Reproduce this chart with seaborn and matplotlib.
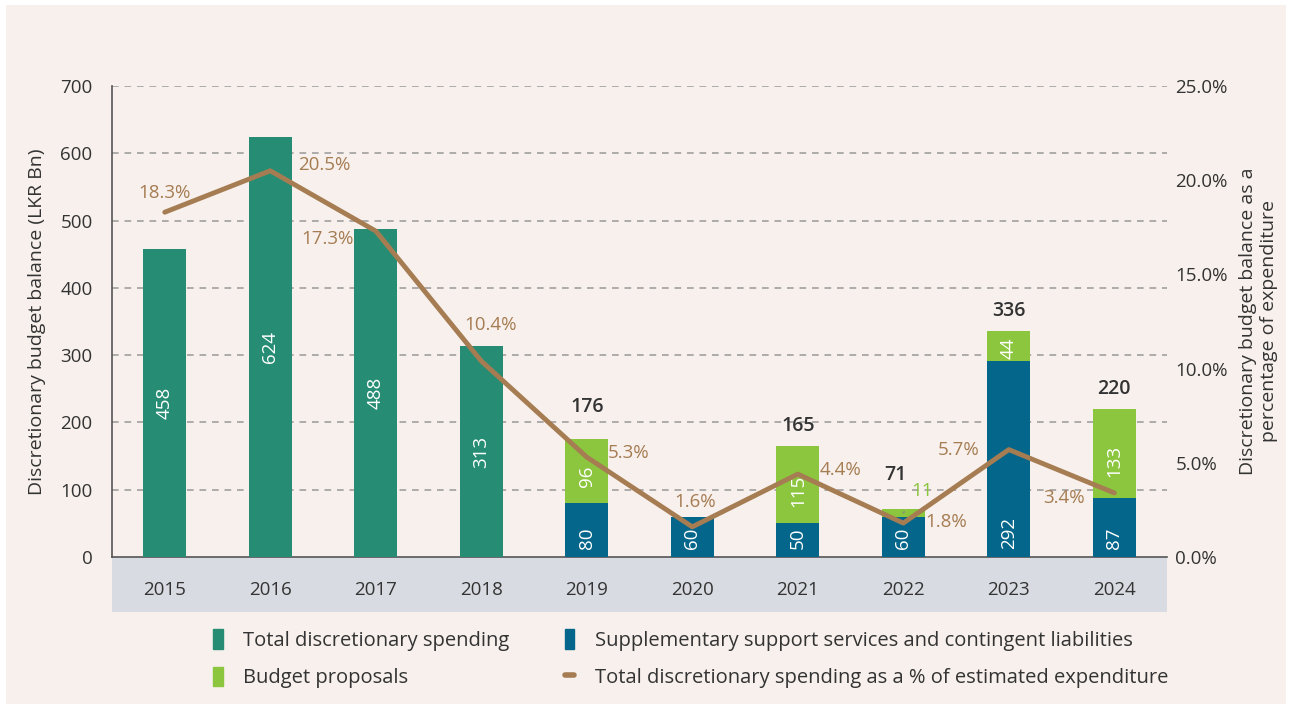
import numpy as np
import pandas as pd
import matplotlib.pyplot as plt
import seaborn as sns
from matplotlib.patches import Rectangle, Patch
from matplotlib.lines import Line2D

# Data
years = ['2015', '2016', '2017', '2018', '2019', '2020', '2021', '2022', '2023', '2024']
total_spending = [458, 624, 488, 313, 0, 0, 0, 0, 0, 0]
supplementary = [0, 0, 0, 0, 80, 60, 50, 60, 292, 87]
budget_proposals = [0, 0, 0, 0, 96, 0, 115, 11, 44, 133]
stack_totals = [None, None, None, None, 176, None, 165, 71, 336, 220]
pct_expenditure = [18.3, 20.5, 17.3, 10.4, 5.3, 1.6, 4.4, 1.8, 5.7, 3.4]

c_teal = '#268d74'
c_blue = '#05668b'
c_green = '#8cc63f'
c_brown = '#a67c52'
c_bg = '#f7f0ec'
c_text = '#333333'

sns.set_theme(style='white')
plt.rcParams['font.family'] = ['Open Sans', 'DejaVu Sans']

df = pd.DataFrame({'year': years, 'total': total_spending, 'supp': supplementary,
                   'budget': budget_proposals, 'pct': pct_expenditure})
df['stack'] = df['supp'] + df['budget']

fig = plt.figure(figsize=(12.92, 7.10), dpi=100, facecolor='white')
fig.patches.append(Rectangle((0.005, 0.008), 0.99, 0.985, transform=fig.transFigure,
                             facecolor=c_bg, edgecolor='none', zorder=-10))
ax = fig.add_axes([0.0867, 0.2155, 0.8166, 0.6634])
ax.set_facecolor(c_bg)
ax.patch.set_alpha(0)

# Bars (stack drawn as total first, then the lower segment over it)
bar_kw = dict(width=0.41, saturation=1, linewidth=0, ax=ax, zorder=3)
sns.barplot(data=df, x='year', y='total', color=c_teal, **bar_kw)
sns.barplot(data=df, x='year', y='stack', color=c_green, **bar_kw)
sns.barplot(data=df, x='year', y='supp', color=c_blue, **bar_kw)

ax.set_ylim(0, 700)
ax.set_xlim(-0.5, len(years) - 0.5)
ax.set_yticks(range(0, 701, 100))
for y in range(100, 701, 100):
    ax.axhline(y, color='#a0a0a0', lw=1.2, ls=(0, (4, 3.5)), zorder=1)
ax.set_xlabel('')
ax.set_ylabel('Discretionary budget balance (LKR Bn)', fontsize=14, color=c_text, labelpad=10)
ax.tick_params(axis='y', length=0, labelsize=13.5, labelcolor=c_text, pad=14)
ax.tick_params(axis='x', which='major', length=0, labelsize=13.5, labelcolor=c_text, pad=17)
ax.set_xticks(np.arange(-0.5, len(years), 1), minor=True)
ax.tick_params(axis='x', which='minor', length=5, color='#555555', direction='out')
for s in ['top', 'right']:
    ax.spines[s].set_visible(False)
for s in ['left', 'bottom']:
    ax.spines[s].set_color('#555555')
    ax.spines[s].set_linewidth(1.2)

# grey band under x axis
ax.add_patch(Rectangle((0, -0.117), 1, 0.117, transform=ax.transAxes, facecolor='#d8dbe1',
                       edgecolor='none', clip_on=False, zorder=-1))

# labels inside bars
lab = dict(rotation=90, ha='center', color='white', fontsize=13.5, zorder=5)
for i, v in enumerate(total_spending):
    if v:
        ax.text(i, v / 2, str(v), va='center', **lab)
for i, v in enumerate(supplementary):
    if v:
        ax.text(i, 12, str(v), va='bottom', **lab)
for i, v in enumerate(budget_proposals):
    if v >= 20:
        ax.text(i, supplementary[i] + v * 0.42, str(v), va='center', **lab)
    elif v:
        ax.annotate(str(v), xy=(i + 0.0, supplementary[i] + v / 2), xytext=(i + 0.18, 98),
                    color=c_green, fontsize=13.5, ha='center', va='center', zorder=5,
                    arrowprops=dict(arrowstyle='-', color='#888888', lw=1, shrinkA=8, shrinkB=0))

# totals above stacked bars (pixel lift / shift per label)
total_lift = [0, 0, 0, 0, 19, 0, 7, 21, 7, 7]
total_shift = [0, 0, 0, 0, 0, 0, 0, -8, 0, 0]
for i, v in enumerate(stack_totals):
    if v:
        ax.annotate(str(v), xy=(i, supplementary[i] + budget_proposals[i]),
                    xytext=(total_shift[i], total_lift[i] + 3), textcoords='offset pixels',
                    ha='center', va='bottom', color=c_text, fontsize=14,
                    fontweight='semibold', zorder=5)

# Line on secondary axis
ax2 = ax.twinx()
sns.lineplot(x=np.arange(len(years)), y=df['pct'], color=c_brown, lw=3.5, ax=ax2, zorder=4,
             solid_capstyle='round')
ax2.set_ylim(0, 25)
ax2.set_yticks(np.arange(0, 25.1, 5))
ax2.set_yticklabels([f'{t:.1f}%' for t in np.arange(0, 25.1, 5)])
ax2.tick_params(axis='y', length=0, labelsize=13.5, labelcolor=c_text, pad=6)
ax2.set_ylabel('Discretionary budget balance as a\npercentage of expenditure', fontsize=14,
               color=c_text, labelpad=8)
for s in ax2.spines.values():
    s.set_visible(False)

pct_offsets = [(0, 14), (39, 4), (-35, -6), (7, 26), (30, 3), (2, 18), (31, 3), (31, 1),
               (-36, 0), (-36, -4)]
for i, (v, off) in enumerate(zip(pct_expenditure, pct_offsets)):
    ax2.annotate(f'{v}%', xy=(i, v), xytext=off, textcoords='offset points', ha='center',
                 va='center', color=c_brown, fontsize=13.5, zorder=6)

# Legend
handles = [Patch(color=c_teal, label='Total discretionary spending'),
           Patch(color=c_green, label='Budget proposals'),
           Patch(color=c_blue, label='Supplementary support services and contingent liabilities'),
           Line2D([0], [0], color=c_brown, lw=4, solid_capstyle='round',
                  label='Total discretionary spending as a % of estimated expenditure')]
fig.legend(handles=handles, ncol=2, loc='upper left', bbox_to_anchor=(0.159, 0.125), frameon=False,
           fontsize=14.5, handlelength=0.45, handleheight=1.1, handletextpad=1.0,
           columnspacing=2.8, labelspacing=0.8, labelcolor=c_text, borderaxespad=0)

fig.savefig('out.png', dpi=100, facecolor='white')
